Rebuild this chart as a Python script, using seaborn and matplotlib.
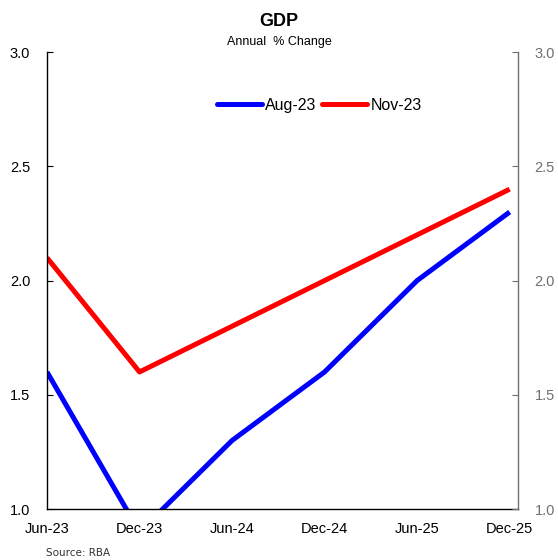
import seaborn as sns
import matplotlib.pyplot as plt
import pandas as pd

periods = ['Jun-23', 'Dec-23', 'Jun-24', 'Dec-24', 'Jun-25', 'Dec-25']
aug23 = [1.6, 0.9, 1.3, 1.6, 2.0, 2.3]
nov23 = [2.1, 1.6, 1.8, 2.0, 2.2, 2.4]
series = ['Aug-23', 'Nov-23']
yticks = [1.0, 1.5, 2.0, 2.5, 3.0]

sns.set_style('white')
plt.rcParams['font.family'] = ['Liberation Sans', 'DejaVu Sans']
plt.rcParams['text.color'] = 'black'

df = pd.DataFrame({'idx': list(range(len(periods))) * 2,
                   'value': aug23 + nov23,
                   'series': [series[0]] * len(periods) + [series[1]] * len(periods)})

fig = plt.figure(figsize=(5.58, 5.6), dpi=100)
ax = fig.add_axes([0.0842, 0.091, 0.8441, 0.816])
sns.lineplot(data=df, x='idx', y='value', hue='series',
             palette=['#0000ff', '#ff0000'], linewidth=3.6, ax=ax,
             solid_capstyle='butt')

ax.set_xlim(0, len(periods) - 1 + 0.09)
ax.set_ylim(1.0, 3.0)
ax.set_xticks(range(len(periods)))
ax.set_xticklabels(periods)
ax.set_yticks(yticks)
ax.set_yticklabels(['%.1f' % v for v in yticks])
ax.set_xlabel('')
ax.set_ylabel('')
for s in ['top', 'right']:
    ax.spines[s].set_visible(False)
for s in ['left', 'bottom']:
    ax.spines[s].set_color('black')
    ax.spines[s].set_linewidth(1.0)
ax.tick_params(axis='both', direction='in', length=4, width=0.8,
               labelsize=10.5, colors='black', pad=9)
ax.tick_params(axis='y', pad=12)

ax2 = ax.twinx()
ax2.set_ylim(ax.get_ylim())
ax2.set_yticks(yticks)
ax2.set_yticklabels(['%.1f' % v for v in yticks])
for s in ['top', 'left', 'bottom']:
    ax2.spines[s].set_visible(False)
ax2.spines['right'].set_color('#707070')
ax2.spines['right'].set_linewidth(1.0)
ax2.tick_params(axis='y', direction='in', length=4, width=0.8,
                labelsize=10.5, colors='#707070', pad=12)

leg = ax.legend(loc='center', bbox_to_anchor=(0.578, 0.884), ncol=2,
                frameon=False, fontsize=11.5, handlelength=2.8,
                handletextpad=0.2, columnspacing=0.4)
for t in leg.get_texts():
    t.set_color('black')
for h in leg.get_lines():
    h.set_linewidth(3.6)
    h.set_solid_capstyle('round')

fig.text(0.5, 0.9625, 'GDP', ha='center', va='center',
         fontsize=13, fontweight='bold', color='black')
fig.text(0.5, 0.925, 'Annual  % Change', ha='center', va='center',
         fontsize=9, color='black')
fig.text(0.082, 0.012, 'Source: RBA', ha='left', va='center',
         fontsize=7.5, color='#333333', family=['DejaVu Sans'])

fig.savefig('out.png', dpi=100)
